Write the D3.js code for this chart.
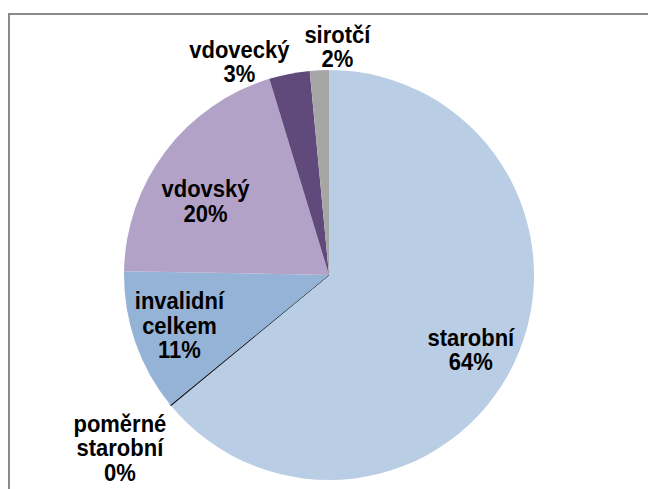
<!DOCTYPE html>
<html>
<head>
<meta charset="utf-8">
<script src="https://cdn.jsdelivr.net/npm/d3@7"></script>
<style>
    html, body { margin: 0; padding: 0; background: #fff; }
    svg { display: block; }
    .label { font-family: "Liberation Sans", Arial, sans-serif; font-weight: bold; font-size: 22px; fill: #000; }
</style>
</head>
<body>
<svg id="chart"></svg>
<script>
// pension types, share of all pensions (%)
const categories = ['starobní', 'poměrné starobní', 'invalidní celkem', 'vdovský', 'vdovecký', 'sirotčí'];
const shares = [64.0, 0.08, 11.22, 20.0, 3.2, 1.5];
const labelLines = [['starobní'], ['poměrné', 'starobní'], ['invalidní', 'celkem'], ['vdovský'], ['vdovecký'], ['sirotčí']];
const colors = ['#B9CDE5', '#000000', '#95B3D7', '#B3A2C7', '#604A7B', '#A6A6A6'];

const width = 648;
const height = 489;
const cx = 329;
const cy = 275;
const radius = 205;

// small ones sit outside the pie, like the excel best-fit labels
const outside = new Set(['poměrné starobní', 'vdovecký', 'sirotčí']);
const nudge = {
    'starobní': [12, 14],
    'poměrné starobní': [-35, 30],
    'invalidní celkem': [-14, 4],
    'vdovský': [-9, 13],
    'vdovecký': [-46, 8],
    'sirotčí': [19, -3],
};
const lineGap = 24.5;
const stretch = 1.1; // the source text is drawn a bit taller than plain arial

const svg = d3.select('#chart')
    .attr('width', width)
    .attr('height', height);

// chart area frame, only top and left edges are in view
svg.append('rect')
    .attr('x', 9)
    .attr('y', 14)
    .attr('width', 800)
    .attr('height', 600)
    .attr('fill', 'none')
    .attr('stroke', '#8a8a8a')
    .attr('stroke-width', 2);

const data = categories.map((name, i) => ({ name, value: shares[i], lines: labelLines[i], color: colors[i] }));

const pie = d3.pie()
    .sort(null)
    .value(d => d.value);

const arcs = pie(data);

const arc = d3.arc()
    .innerRadius(0)
    .outerRadius(radius);

const inLabelArc = d3.arc().innerRadius(radius * 0.7).outerRadius(radius * 0.7);
const outLabelArc = d3.arc().innerRadius(radius * 1.1).outerRadius(radius * 1.1);

const g = svg.append('g')
    .attr('transform', `translate(${cx},${cy})`);

g.selectAll('path')
    .data(arcs)
    .join('path')
    .attr('d', arc)
    .attr('fill', d => d.data.color)
    .attr('stroke', d => d.data.name === 'poměrné starobní' ? '#000' : 'none')
    .attr('stroke-width', 0.6);

const labels = g.selectAll('text')
    .data(arcs)
    .join('text')
    .attr('class', 'label')
    .attr('text-anchor', 'middle')
    .attr('transform', d => {
        const c = (outside.has(d.data.name) ? outLabelArc : inLabelArc).centroid(d);
        const n = nudge[d.data.name];
        return `translate(${c[0] + n[0]},${c[1] + n[1]}) scale(1,${stretch})`;
    });

labels.each(function (d) {
    const rows = d.data.lines.concat([Math.round(d.data.value) + '%']);
    const gap = lineGap / stretch;
    const top = -((rows.length - 1) * gap) / 2 + 8 / stretch;
    d3.select(this).selectAll('tspan')
        .data(rows)
        .join('tspan')
        .attr('x', 0)
        .attr('y', (r, i) => top + i * gap)
        .text(r => r);
});
</script>
</body>
</html>
